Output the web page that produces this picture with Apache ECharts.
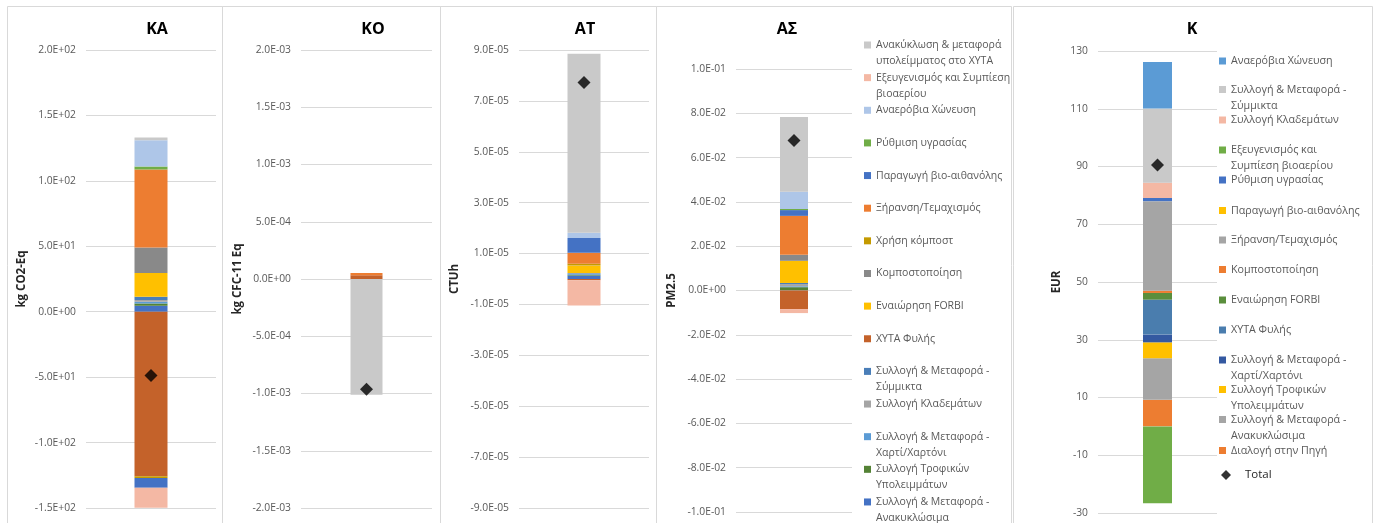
<!DOCTYPE html>
<html>
<head>
<meta charset="utf-8">
<script src="https://cdn.jsdelivr.net/npm/echarts@6/dist/echarts.min.js"></script>
<style>
  html, body { margin: 0; padding: 0; background: #ffffff; }
  #chart { width: 1378px; height: 523px; }
</style>
</head>
<body>
<div id="chart"></div>
<script>
// ---- Life-cycle stages for the four impact panels (stacking order, bottom -> top) ----
const stageNames = [
  'Συλλογή & Μεταφορά - Ανακυκλώσιμα',
  'Συλλογή Τροφικών Υπολειμμάτων',
  'Συλλογή & Μεταφορά - Χαρτί/Χαρτόνι',
  'Συλλογή Κλαδεμάτων',
  'Συλλογή & Μεταφορά - Σύμμικτα',
  'ΧΥΤΑ Φυλής',
  'Εναιώρηση FORBI',
  'Κομποστοποίηση',
  'Χρήση κόμποστ',
  'Ξήρανση/Τεμαχισμός',
  'Παραγωγή βιο-αιθανόλης',
  'Ρύθμιση υγρασίας',
  'Αναερόβια Χώνευση',
  'Εξευγενισμός και Συμπίεση βιοαερίου',
  'Ανακύκλωση & μεταφορά υπολείμματος στο ΧΥΤΑ'
];
// legend text (top -> bottom), wrapped as in the side legend
const stageLegendLabels = [
  'Ανακύκλωση & μεταφορά\nυπολείμματος στο ΧΥΤΑ',
  'Εξευγενισμός και Συμπίεση\nβιοαερίου',
  'Αναερόβια Χώνευση',
  'Ρύθμιση υγρασίας',
  'Παραγωγή βιο-αιθανόλης',
  'Ξήρανση/Τεμαχισμός',
  'Χρήση κόμποστ',
  'Κομποστοποίηση',
  'Εναιώρηση FORBI',
  'ΧΥΤΑ Φυλής',
  'Συλλογή & Μεταφορά -\nΣύμμικτα',
  'Συλλογή Κλαδεμάτων',
  'Συλλογή & Μεταφορά -\nΧαρτί/Χαρτόνι',
  'Συλλογή Τροφικών\nΥπολειμμάτων',
  'Συλλογή & Μεταφορά -\nΑνακυκλώσιμα'
];

// impact values per stage (same order as stageNames)
const valuesKA = [4.5, 1.8, 1.3, 1.3, 2.5, -125.8, 18.2, 19.4, -1.2, 59.6, -7.6, 2.3, 20.2, -15.2, 2.0];
const totalKA = -48.7;
const valuesKO = [0, 0, 0, 0, 0, 3.2e-5, 0, 0, 0, 2.1e-5, 0, 0, 0, 0, -1.012e-3];
const totalKO = -9.63e-4;
const valuesAT = [1.4e-6, 0.3e-6, 0.25e-6, 0.25e-6, 0.17e-6, -0.5e-6, 3.0e-6, 0.1e-6, 0.55e-6, 4.3e-6, 5.8e-6, 0, 2.1e-6, -9.9e-6, 70.3e-6];
const totalAT = 7.72e-5;
const valuesAS = [0.0001, 0.0014, 0.0004, 0.001, 0.0005, -0.0084, 0.0100, 0.0027, 0, 0.0176, 0.0026, 0.0005, 0.0078, -0.0018, 0.0337];
const totalAS = 0.0677;

// ---- Cost panel stages (stacking order, bottom -> top) ----
const costNames = [
  'Διαλογή στην Πηγή',
  'Συλλογή & Μεταφορά - Ανακυκλώσιμα',
  'Συλλογή Τροφικών Υπολειμμάτων',
  'Συλλογή & Μεταφορά - Χαρτί/Χαρτόνι',
  'ΧΥΤΑ Φυλής',
  'Εναιώρηση FORBI',
  'Κομποστοποίηση',
  'Ξήρανση/Τεμαχισμός',
  'Παραγωγή βιο-αιθανόλης',
  'Ρύθμιση υγρασίας',
  'Εξευγενισμός και Συμπίεση βιοαερίου',
  'Συλλογή Κλαδεμάτων',
  'Συλλογή & Μεταφορά - Σύμμικτα',
  'Αναερόβια Χώνευση'
];
const costLegendLabels = [
  'Αναερόβια Χώνευση',
  'Συλλογή & Μεταφορά -\nΣύμμικτα',
  'Συλλογή Κλαδεμάτων',
  'Εξευγενισμός και\nΣυμπίεση βιοαερίου',
  'Ρύθμιση υγρασίας',
  'Παραγωγή βιο-αιθανόλης',
  'Ξήρανση/Τεμαχισμός',
  'Κομποστοποίηση',
  'Εναιώρηση FORBI',
  'ΧΥΤΑ Φυλής',
  'Συλλογή & Μεταφορά -\nΧαρτί/Χαρτόνι',
  'Συλλογή Τροφικών\nΥπολειμμάτων',
  'Συλλογή & Μεταφορά -\nΑνακυκλώσιμα',
  'Διαλογή στην Πηγή'
];
const valuesK = [9.2, 14.4, 5.5, 2.7, 12.1, 2.3, 0.8, 31.0, 0, 1.1, -26.6, 5.3, 25.7, 16.1];
const totalK = 90.5;

const panelTitles = ['ΚΑ', 'ΚΟ', 'ΑΤ', 'ΑΣ', 'Κ'];
const axisUnits = ['kg CO2-Eq', 'kg CFC-11 Eq', 'CTUh', 'PM2.5', 'EUR'];
const totalName = 'Total';

// ---- styling ----
const stageColors = [
  '#4472C4', '#548235', '#5B9BD5', '#A5A5A5', '#4A7EB8',
  '#C4622A', '#FFC000', '#898989', '#C49A00', '#ED7D31',
  '#4472C4', '#70AD47', '#AEC6E8', '#F4B8A4', '#C9C9C9'
];
const costColors = [
  '#ED7D31', '#A5A5A5', '#FFC000', '#3459A1', '#4A7DAE',
  '#5A8E3C', '#ED7D31', '#A5A5A5', '#FFC000', '#4472C4',
  '#70AD47', '#F4B8A4', '#C9C9C9', '#5B9BD5'
];

const FONT = '"Open Sans", "Noto Sans", sans-serif';
const LABEL_COLOR = '#595959';
const GRID_COLOR = '#D9D9D9';

const layout = [
  { grid: { left: 86,  top: 50, width: 130, height: 458 }, min: -150,  max: 200,   interval: 50,   bar: 33, titleX: 157,  nameGap: 58 },
  { grid: { left: 301, top: 50, width: 131, height: 458 }, min: -2e-3, max: 2e-3,  interval: 5e-4, bar: 32, titleX: 373,  nameGap: 57 },
  { grid: { left: 519, top: 50, width: 130, height: 458 }, min: -9e-5, max: 9e-5,  interval: 2e-5, bar: 33, titleX: 585,  nameGap: 58 },
  { grid: { left: 736, top: 69, width: 116, height: 443 }, min: -0.1,  max: 0.1,   interval: 0.02, bar: 28, titleX: 787,  nameGap: 58 },
  { grid: { left: 1098, top: 51, width: 119, height: 462 }, min: -30,  max: 130,   interval: 20,   bar: 29, titleX: 1192, nameGap: 35 }
];
const panelFrames = [[7.5, 222.5], [222.5, 440.5], [440.5, 656.5], [656.5, 1011.5], [1013.5, 1372.5]];
// first-line heights of the rows in the cost legend (last row: Total)
const costLegendRowY = [61, 89.5, 120, 150, 180, 210.5, 240, 269.5, 300, 330, 360, 389.5, 419.5, 450.5, 475];

// scientific tick labels such as 2.0E+02 / -5.0E-04
function sciLabel(v) {
  if (Math.abs(v) < 1e-15) return '0.0E+00';
  const parts = Number(v.toPrecision(10)).toExponential(1).split('e');
  const exp = parseInt(parts[1], 10);
  return parts[0] + 'E' + (exp < 0 ? '-' : '+') + String(Math.abs(exp)).padStart(2, '0');
}

const panelData = [
  { names: stageNames, colors: stageColors, values: valuesKA, total: totalKA },
  { names: stageNames, colors: stageColors, values: valuesKO, total: totalKO },
  { names: stageNames, colors: stageColors, values: valuesAT, total: totalAT },
  { names: stageNames, colors: stageColors, values: valuesAS, total: totalAS },
  { names: costNames,  colors: costColors,  values: valuesK,  total: totalK }
];

const grids = [], xAxes = [], yAxes = [], series = [], titles = [], legends = [];

panelData.forEach((pd, p) => {
  const L = layout[p];
  grids.push(Object.assign({ containLabel: false }, L.grid));
  xAxes.push({ type: 'category', gridIndex: p, data: [''], show: false });
  yAxes.push({
    type: 'value', gridIndex: p, min: L.min, max: L.max, interval: L.interval,
    name: axisUnits[p], nameLocation: 'middle', nameRotate: 90, nameGap: L.nameGap,
    nameTextStyle: { fontFamily: FONT, fontSize: 11.5, fontWeight: 'bold', color: '#262626' },
    axisLine: { show: false }, axisTick: { show: false },
    splitLine: { lineStyle: { color: GRID_COLOR, width: 1 } },
    axisLabel: {
      margin: 10, color: LABEL_COLOR, fontFamily: FONT, fontSize: 10.3,
      formatter: p === 4 ? (v) => String(Math.round(v)) : sciLabel
    }
  });
  titles.push({
    text: panelTitles[p], left: L.titleX, top: 21, textAlign: 'center', padding: 0,
    textStyle: { fontFamily: FONT, fontSize: 16, fontWeight: 'bold', color: '#000000' }
  });
  pd.names.forEach((name, i) => {
    series.push({
      name: name, type: 'bar', xAxisIndex: p, yAxisIndex: p, stack: 'panel' + p,
      barWidth: L.bar, data: [pd.values[i]],
      itemStyle: { color: pd.colors[i] },
      emphasis: { disabled: true }, animation: false
    });
  });
  series.push({
    name: totalName, type: 'scatter', xAxisIndex: p, yAxisIndex: p,
    symbol: 'diamond', symbolSize: 13, data: [pd.total], z: 5,
    itemStyle: { color: '#000000' }, emphasis: { disabled: true }, animation: false
  });
});

// One legend per row so rows keep their own pitch. A wrapped label gets an empty
// leading line, which keeps its first text line level with the marker.
function addLegendRow(name, label, color, left, lineY, fontSize) {
  const twoLines = label.indexOf('\n') >= 0;
  const shown = twoLines ? '\n' + label : label;
  legends.push({
    data: [{ name: name, itemStyle: { color: color } }],
    formatter: () => shown,
    left: left, top: lineY - (twoLines ? 24 : 8), padding: 0,
    icon: 'rect', itemWidth: 7, itemHeight: 7, selectedMode: false,
    textStyle: { fontFamily: FONT, fontSize: fontSize, color: LABEL_COLOR, lineHeight: 16 }
  });
}

stageLegendLabels.forEach((label, r) => {
  const idx = stageNames.length - 1 - r;
  addLegendRow(stageNames[idx], label, stageColors[idx], 864, 45 + 32.64 * r, 10.5);
});
costLegendLabels.forEach((label, r) => {
  const idx = costNames.length - 1 - r;
  addLegendRow(costNames[idx], label, costColors[idx], 1219, costLegendRowY[r], 10.7);
});
legends.push({
  data: [{ name: totalName, itemStyle: { color: '#000000' } }],
  left: 1221, top: costLegendRowY[14] - 8, padding: 0,
  icon: 'diamond', itemWidth: 10, itemHeight: 10, selectedMode: false,
  textStyle: { fontFamily: FONT, fontSize: 11.5, color: '#262626', lineHeight: 16, padding: [0, 0, 0, 9] }
});

const frames = panelFrames.map(([x0, x1]) => ({
  type: 'rect', silent: true, z: -1,
  shape: { x: x0, y: 6.5, width: x1 - x0, height: 540 },
  style: { fill: null, stroke: GRID_COLOR, lineWidth: 1 }
}));

const chart = echarts.init(document.getElementById('chart'), null, { renderer: 'canvas' });
chart.setOption({
  backgroundColor: '#ffffff',
  animation: false,
  title: titles,
  grid: grids,
  xAxis: xAxes,
  yAxis: yAxes,
  legend: legends,
  tooltip: { show: false },
  graphic: frames,
  series: series
});
</script>
</body>
</html>
